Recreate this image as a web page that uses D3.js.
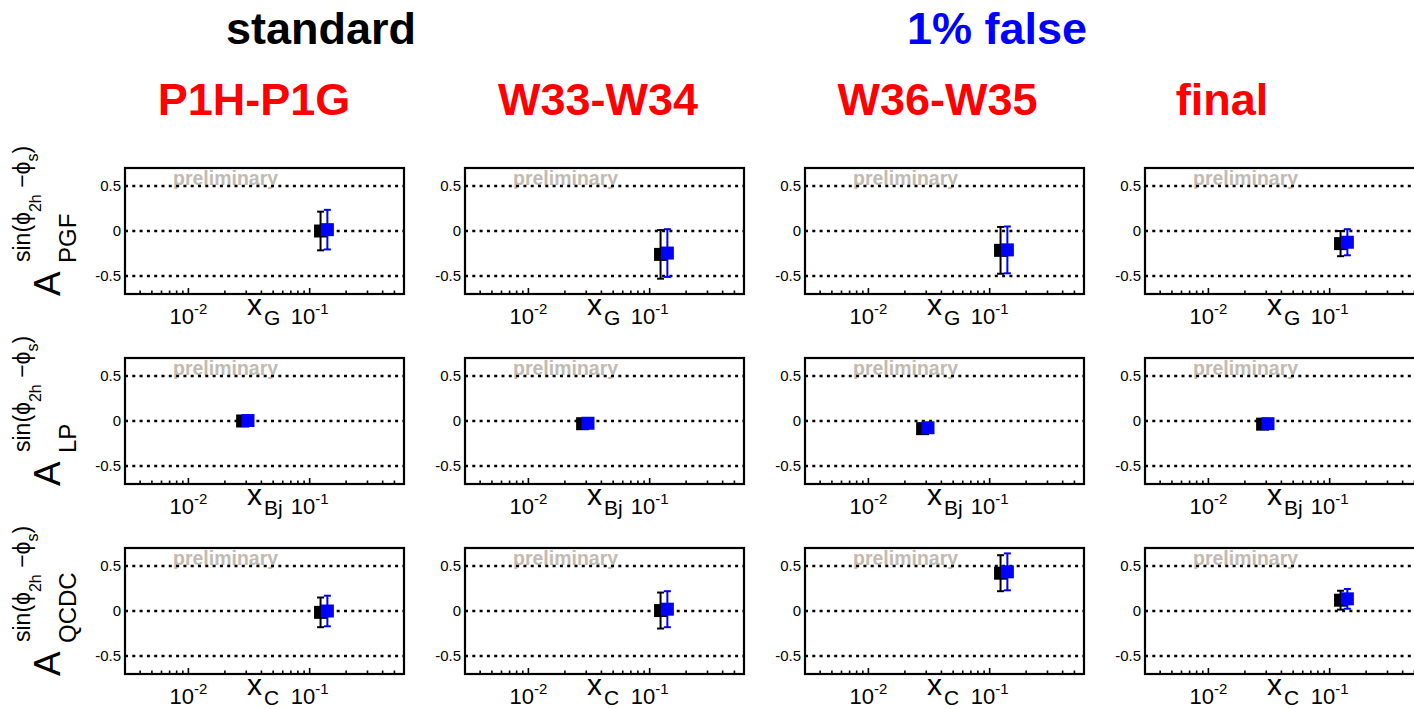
<!DOCTYPE html>
<html>
<head>
<meta charset="utf-8">
<script src="https://cdn.jsdelivr.net/npm/d3@7"></script>
<style>
  body { margin: 0; background: #fff; }
  svg { display: block; font-family: "Liberation Sans", Arial, Helvetica, sans-serif; }
</style>
</head>
<body>
<div id="chart"></div>
<script>
// column / row labels
var columns = ["P1H-P1G", "W33-W34", "W36-W35", "final"];
var rows = ["PGF", "LP", "QCDC"];
var xVars = ["G", "Bj", "C"];
var seriesNames = ["standard", "1% false"];
var seriesColors = ["#000000", "#0000ff"];

var yTicks = [-0.5, 0, 0.5];
var yTickLabels = ["-0.5", "0", "0.5"];
var xTickExps = [-2, -1];

// x position of each point, per row
var xStandard = [0.123, 0.028, 0.123];
var xFalse = [0.14, 0.031, 0.14];

// asymmetry values [row][column]
var valStandard = [
    [0.0, -0.26, -0.215, -0.14],
    [0.0, -0.03, -0.085, -0.035],
    [-0.015, 0.005, 0.42, 0.12]
];
var errStandard = [
    [0.215, 0.27, 0.26, 0.14],
    [0.04, 0.04, 0.04, 0.04],
    [0.165, 0.2, 0.2, 0.105]
];
var valFalse = [
    [0.015, -0.245, -0.21, -0.125],
    [0.005, -0.025, -0.075, -0.03],
    [0.0, 0.02, 0.435, 0.135]
];
var errFalse = [
    [0.22, 0.265, 0.26, 0.145],
    [0.04, 0.04, 0.04, 0.04],
    [0.17, 0.2, 0.205, 0.11]
];

var svgWidth = 1414, svgHeight = 709;
var panelW = 279, panelH = 126;
var panelX0 = 125, panelDX = 340;
var panelY0 = 168, panelDY = 190;
var colTitleX = [254, 598, 937.5, 1222];
var seriesTitleX = [321, 997];

var svg = d3.select("#chart").append("svg")
    .attr("width", svgWidth)
    .attr("height", svgHeight);

// top titles
seriesNames.forEach(function (name, i) {
    svg.append("text")
        .attr("x", seriesTitleX[i])
        .attr("y", 44)
        .attr("text-anchor", "middle")
        .style("font-size", "45px")
        .style("font-weight", "bold")
        .style("fill", seriesColors[i])
        .text(name);
});

columns.forEach(function (name, c) {
    svg.append("text")
        .attr("x", colTitleX[c])
        .attr("y", 115)
        .attr("text-anchor", "middle")
        .style("font-size", "45px")
        .style("font-weight", "bold")
        .style("fill", "#ff0000")
        .text(name);
});

var x = d3.scaleLog().domain([0.003, 0.6]).range([0, panelW]);
var y = d3.scaleLinear().domain([-0.7, 0.7]).range([panelH, 0]);

function drawPoint(g, xv, v, e, color) {
    var cx = x(xv);
    g.append("line")
        .attr("x1", cx).attr("x2", cx)
        .attr("y1", y(v + e)).attr("y2", y(v - e))
        .attr("stroke", color).attr("stroke-width", 2);
    [v + e, v - e].forEach(function (t) {
        g.append("line")
            .attr("x1", cx - 3.5).attr("x2", cx + 3.5)
            .attr("y1", y(t)).attr("y2", y(t))
            .attr("stroke", color).attr("stroke-width", 2);
    });
    g.append("rect")
        .attr("x", cx - 6.5).attr("y", y(v) - 6.5)
        .attr("width", 13).attr("height", 13)
        .attr("fill", color);
}

rows.forEach(function (rowName, r) {
    columns.forEach(function (colName, c) {
        var left = panelX0 + c * panelDX;
        var top = panelY0 + r * panelDY;
        var g = svg.append("g").attr("transform", `translate(${left}, ${top})`);

        // preliminary watermark
        g.append("text")
            .attr("x", 48)
            .attr("y", 17)
            .style("font-size", "19.5px")
            .style("font-weight", "bold")
            .style("fill", "#c3bab1")
            .text("preliminary");

        // dotted reference lines
        yTicks.forEach(function (t) {
            g.append("line")
                .attr("x1", 0).attr("x2", panelW)
                .attr("y1", y(t)).attr("y2", y(t))
                .attr("stroke", "#000")
                .attr("stroke-width", 2.4)
                .attr("stroke-dasharray", "3,4.3");
        });

        // y tick labels
        yTicks.forEach(function (t, i) {
            g.append("text")
                .attr("x", -4)
                .attr("y", y(t))
                .attr("dy", "0.36em")
                .attr("text-anchor", "end")
                .style("font-size", "15px")
                .text(yTickLabels[i]);
        });

        // log ticks on bottom axis
        x.ticks().forEach(function (t) {
            var major = Math.abs(Math.log10(t) - Math.round(Math.log10(t))) < 1e-9;
            g.append("line")
                .attr("x1", x(t)).attr("x2", x(t))
                .attr("y1", panelH).attr("y2", panelH - (major ? 6 : 3.5))
                .attr("stroke", "#000").attr("stroke-width", 1.6);
        });

        // x tick labels 10^n
        xTickExps.forEach(function (p) {
            var t = g.append("text")
                .attr("x", x(Math.pow(10, p)))
                .attr("y", panelH + 30)
                .attr("text-anchor", "middle")
                .style("font-size", "22px");
            t.append("tspan").text("10");
            t.append("tspan").attr("dy", -10).style("font-size", "15px").text(String(p));
        });

        // x axis title
        var xt = g.append("text")
            .attr("x", 122)
            .attr("y", panelH + 21)
            .style("font-size", "30px")
            .text("x");
        xt.append("tspan").attr("dy", 10).attr("dx", 2).style("font-size", "21px").text(xVars[r]);

        // data points
        drawPoint(g, xStandard[r], valStandard[r][c], errStandard[r][c], seriesColors[0]);
        drawPoint(g, xFalse[r], valFalse[r][c], errFalse[r][c], seriesColors[1]);

        // frame
        g.append("rect")
            .attr("width", panelW).attr("height", panelH)
            .attr("fill", "none")
            .attr("stroke", "#000")
            .attr("stroke-width", 2.2);
    });

    // y axis label, rotated, only on first column
    var bottom = panelY0 + r * panelDY + panelH;
    var lab = svg.append("g")
        .attr("transform", `translate(60, ${bottom + 2}) rotate(-90)`);
    lab.append("text").attr("x", 0).attr("y", 0)
        .style("font-size", "37px").text("A");
    lab.append("text").attr("x", 33).attr("y", 16)
        .style("font-size", "24px").text(rowName);
    var sup = lab.append("text").attr("x", 34).attr("y", -30)
        .style("font-size", "23px");
    sup.append("tspan").text("sin(\u03d5");
    sup.append("tspan").attr("dy", 11).style("font-size", "16px").text("2h");
    sup.append("tspan").attr("dy", -11).text(" \u2212\u03d5");
    sup.append("tspan").attr("dy", 8).style("font-size", "16px").text("s");
    sup.append("tspan").attr("dy", -8).text(")");
});
</script>
</body>
</html>
